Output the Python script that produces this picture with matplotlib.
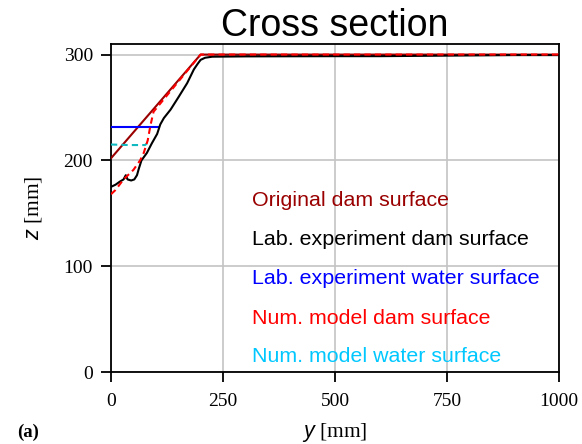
import matplotlib
matplotlib.use("Agg")
import matplotlib.pyplot as plt

# Original dam profile
orig_y = [0, 200, 1000]
orig_z = [202, 300, 300]

# Laboratory experiment dam surface
lab_y = [0, 10, 20, 28, 33, 37, 45, 52, 58, 62, 68, 80, 91, 103, 110, 118, 133,
         151, 170, 185, 193, 200, 210, 226, 300, 500, 600, 750, 900, 1000]
lab_z = [175, 177, 180, 182, 186, 182, 181, 182, 186, 192, 200, 207, 216, 225,
         234, 240, 248, 260, 273, 286, 291, 295, 297, 298, 298.3, 298.5, 298.5,
         299, 299.5, 299.5]

# Laboratory experiment water surface
lab_w_y = [0, 106]
lab_w_z = [232, 232]

# Numerical model dam surface
num_y = [0, 10, 28, 50, 65, 73, 82, 88, 95, 200, 1000]
num_z = [168, 172, 182, 191, 200, 207, 219, 233, 246, 300, 300]

# Numerical model water surface
num_w_y = [0, 40, 76, 80]
num_w_z = [215, 214.5, 214.5, 216]

labels = ["Original dam surface", "Lab. experiment dam surface",
          "Lab. experiment water surface", "Num. model dam surface",
          "Num. model water surface"]
label_colors = ["#9a0000", "black", "#0000ff", "#ff0000", "#00c8ff"]
label_z = [162, 125, 88, 51, 15]

xticks = [0, 250, 500, 750, 1000]
yticks = [0, 100, 200, 300]

plt.rcParams["mathtext.fontset"] = "custom"
plt.rcParams["mathtext.it"] = "Liberation Sans:italic"
plt.rcParams["mathtext.rm"] = "Liberation Serif"

fig = plt.figure(figsize=(5.82, 4.44), dpi=100)
ax = fig.add_axes([111 / 582, 1 - 372 / 444, 448 / 582, 328 / 444])

ax.plot(orig_y, orig_z, color="#9a0000", lw=1.5, zorder=3)
ax.plot(lab_w_y, lab_w_z, color="#0000ff", lw=1.5, zorder=3)
ax.plot(num_w_y, num_w_z, color="#10b8c0", lw=1.5, ls=(0, (3, 2)), zorder=3)
ax.plot(lab_y, lab_z, color="black", lw=1.5, zorder=4)
ax.plot(num_y, num_z, color="#ff0000", lw=1.5, ls=(0, (3, 2)), zorder=5)

for txt, c, z in zip(labels, label_colors, label_z):
    ax.text(315, z, txt, color=c, fontsize=15.4, family="Liberation Sans",
            va="center", ha="left", zorder=6)

ax.set_xlim(0, 1000)
ax.set_ylim(0, 310)
ax.set_xticks(xticks)
ax.set_yticks(yticks)
ax.grid(True, color="#c4c4c4", lw=1.2, zorder=0)
ax.set_axisbelow(True)
ax.tick_params(direction="out", length=7, width=1.3, labelsize=14,
               top=False, right=False)
ax.tick_params(axis="x", pad=8)
ax.tick_params(axis="y", pad=6)
for lbl in ax.get_xticklabels() + ax.get_yticklabels():
    lbl.set_family("Liberation Serif")
for sp in ax.spines.values():
    sp.set_linewidth(1.3)

ax.set_xlabel(r"$y$ [mm]", fontsize=15.5, family="Liberation Serif", labelpad=8)
ax.set_ylabel(r"$z$ [mm]", fontsize=15.5, family="Liberation Serif", labelpad=14)
ax.set_title("Cross section", fontsize=27, family="Liberation Sans", pad=4)

fig.text(17 / 582, 1 - 432 / 444, "(a)", fontsize=13.5, family="Liberation Serif",
         fontweight="bold", va="center", ha="left")

fig.savefig("out.png", dpi=100)
